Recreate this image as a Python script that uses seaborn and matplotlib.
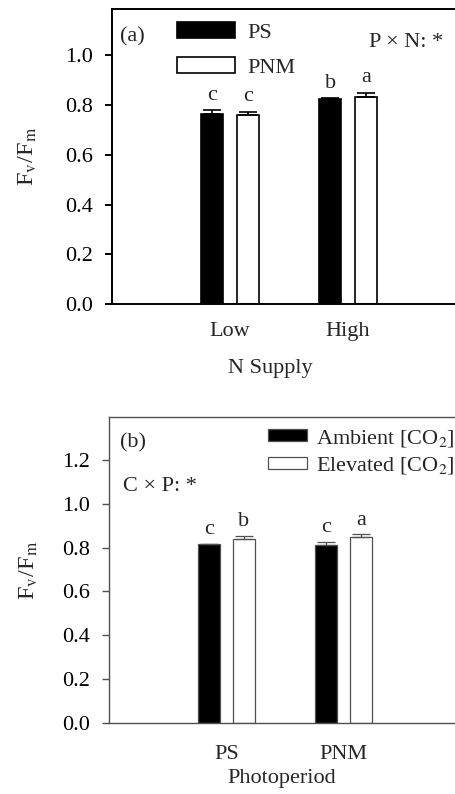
import matplotlib
matplotlib.use('Agg')
import matplotlib.pyplot as plt
import seaborn as sns
import pandas as pd
from matplotlib.ticker import FormatStrFormatter

sns.set_theme(style='ticks')
plt.rcParams['font.family'] = ['Liberation Serif', 'DejaVu Serif']
plt.rcParams['mathtext.fontset'] = 'stix'

# ---------------- data: panel (a) ----------------
n_levels = ['Low', 'High']
photo_levels = ['PS', 'PNM']
fvfm_a_ps = [0.765, 0.825]
fvfm_a_pnm = [0.761, 0.834]
err_a_ps = [0.014, 0.003]
err_a_pnm = [0.012, 0.016]
letters_a_ps = ['c', 'b']
letters_a_pnm = ['c', 'a']

# ---------------- data: panel (b) ----------------
photo_b = ['PS', 'PNM']
co2_levels = ['Ambient [CO$_2$]', 'Elevated [CO$_2$]']
fvfm_b_amb = [0.815, 0.812]
fvfm_b_elev = [0.838, 0.849]
err_b_amb = [0.003, 0.012]
err_b_elev = [0.014, 0.011]
letters_b_amb = ['c', 'c']
letters_b_elev = ['b', 'a']

yticks_a = [0.0, 0.2, 0.4, 0.6, 0.8, 1.0]
yticks_b = [0.0, 0.2, 0.4, 0.6, 0.8, 1.0, 1.2]

df_a = pd.DataFrame({
    'N': n_levels + n_levels,
    'P': [photo_levels[0]] * 2 + [photo_levels[1]] * 2,
    'v': fvfm_a_ps + fvfm_a_pnm,
})
df_b = pd.DataFrame({
    'P': photo_b + photo_b,
    'C': [co2_levels[0]] * 2 + [co2_levels[1]] * 2,
    'v': fvfm_b_amb + fvfm_b_elev,
})

FS = 16
fig = plt.figure(figsize=(4.56, 7.94), dpi=100)
W, H = 456, 794

def px_axes(l, r, t, b):
    return fig.add_axes([l / W, 1 - b / H, (r - l) / W, (b - t) / H])

ax1 = px_axes(112, 466, 9, 304)
ax2 = px_axes(109, 461, 417, 723)

def draw(ax, df, x, hue, order, hue_order, errs, letters, ylim, yticks, ec, lw, slw, ylx):
    sns.barplot(data=df, x=x, y='v', hue=hue, order=order, hue_order=hue_order,
                palette=['black', 'white'], edgecolor=ec, linewidth=lw,
                width=0.6, gap=0.38, errorbar=None, ax=ax, legend=True)
    for cont, e, lets in zip(ax.containers, errs, letters):
        xs = [p.get_x() + p.get_width() / 2 for p in cont.patches]
        ys = [p.get_height() for p in cont.patches]
        ax.errorbar(xs, ys, yerr=[[0] * len(e), e], fmt='none', ecolor=ec,
                    elinewidth=lw, capsize=6.5, capthick=lw)
        for xx, yy, ee, t in zip(xs, ys, e, lets):
            ax.text(xx, yy + ee + 0.022, t, ha='center', va='bottom', fontsize=FS)
    ax.set_xlim(-1, 2)
    ax.set_ylim(*ylim)
    ax.set_yticks(yticks)
    ax.yaxis.set_major_formatter(FormatStrFormatter('%.1f'))
    ax.tick_params(axis='y', direction='out', length=5, width=slw, labelsize=FS, pad=9, colors=ec, labelcolor='black')
    ax.tick_params(axis='x', length=0, labelsize=FS)
    for s in ax.spines.values():
        s.set_linewidth(slw)
        s.set_color(ec)
    ax.spines['right'].set_visible(False)
    ax.set_ylabel(r'F$_\mathrm{v}$/F$_\mathrm{m}$', fontsize=FS + 1.5)
    ax.yaxis.set_label_coords(ylx, 0.5)

draw(ax1, df_a, 'N', 'P', n_levels, photo_levels, [err_a_ps, err_a_pnm],
     [letters_a_ps, letters_a_pnm], (0, 1.187), yticks_a, 'black', 1.2, 1.4, -0.207)
ax1.tick_params(axis='x', pad=13)
ax1.set_xlabel('N Supply', fontsize=FS)
ax1.xaxis.set_label_coords(0.446, -0.185)
h, l = ax1.get_legend_handles_labels()
ax1.legend(h, l, loc='upper left', bbox_to_anchor=(0.185, 0.955), frameon=False,
           fontsize=FS, handlelength=2.6, handleheight=0.72, handletextpad=0.55,
           labelspacing=0.65, borderpad=0, borderaxespad=0)
ax1.text(0.023, 0.905, '(a)', transform=ax1.transAxes, fontsize=FS, va='center', ha='left')
ax1.text(0.725, 0.888, 'P × N: *', transform=ax1.transAxes, fontsize=FS, va='center', ha='left')

draw(ax2, df_b, 'P', 'C', photo_b, co2_levels, [err_b_amb, err_b_elev],
     [letters_b_amb, letters_b_elev], (0, 1.395), yticks_b, '#505050', 0.9, 1.0, -0.195)
ax2.tick_params(axis='x', pad=16)
ax2.set_xlabel('Photoperiod', fontsize=FS)
ax2.xaxis.set_label_coords(0.49, -0.15)
h, l = ax2.get_legend_handles_labels()
ax2.legend(h, l, loc='upper left', bbox_to_anchor=(0.452, 0.965), frameon=False,
           fontsize=FS, handlelength=1.75, handleheight=0.45, handletextpad=0.4,
           labelspacing=0.3, borderpad=0, borderaxespad=0)
ax2.text(0.031, 0.916, '(b)', transform=ax2.transAxes, fontsize=FS, va='center', ha='left')
ax2.text(0.04, 0.773, 'C × P: *', transform=ax2.transAxes, fontsize=FS, va='center', ha='left')

fig.savefig('out.png', dpi=100)
